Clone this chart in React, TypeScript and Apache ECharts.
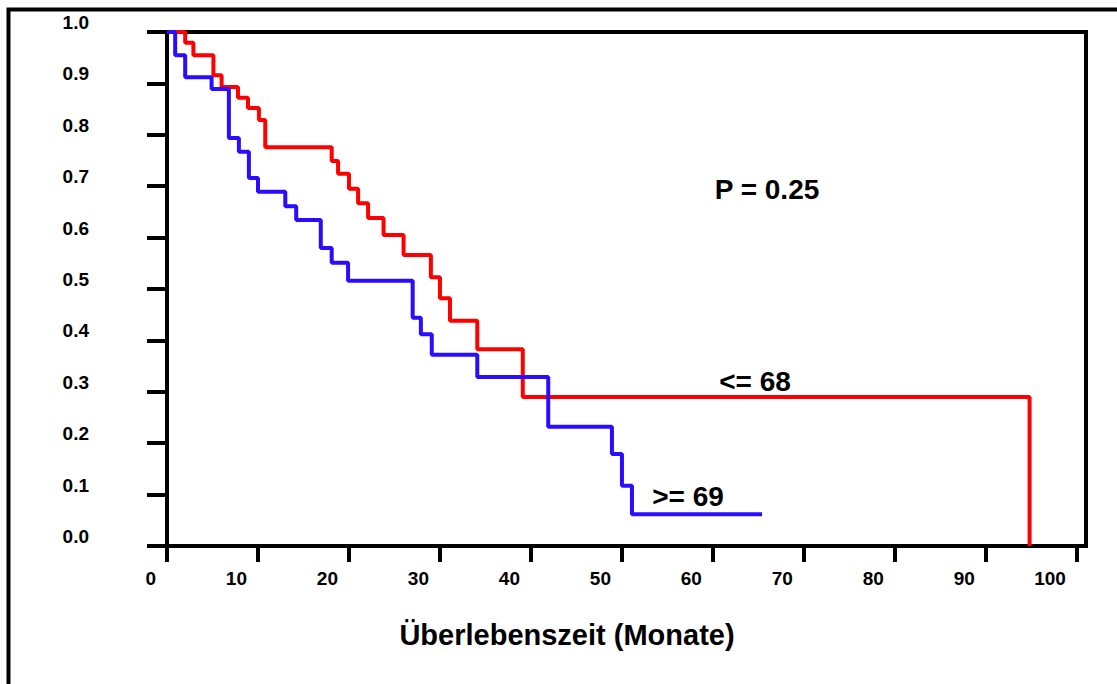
import React, { useEffect, useRef } from "react";
import * as echarts from "echarts";

// Kaplan-Meier curves (time in months, survival proportion)
const redTimes = [0, 2.0, 2.9, 5.1, 6.0, 7.8, 8.9, 10.1, 10.8, 18.1, 18.8, 20.0, 21.0, 22.1, 23.8, 26.0, 29.0, 30.0, 31.1, 34.1, 39.1, 94.8];
const redSurv = [1.0, 0.979, 0.955, 0.916, 0.893, 0.872, 0.852, 0.829, 0.776, 0.749, 0.724, 0.695, 0.667, 0.638, 0.605, 0.566, 0.523, 0.482, 0.438, 0.383, 0.29, 0];

const blueTimes = [0, 0.9, 2.0, 4.9, 6.8, 7.9, 9.0, 10.0, 13.0, 14.2, 16.9, 18.1, 19.9, 27.0, 27.9, 29.1, 34.1, 41.9, 48.9, 50.0, 51.1, 65.4];
const blueSurv = [1.0, 0.955, 0.912, 0.889, 0.794, 0.767, 0.716, 0.689, 0.661, 0.634, 0.58, 0.551, 0.516, 0.444, 0.412, 0.372, 0.329, 0.232, 0.179, 0.117, 0.062, 0.062];

const xTickValues = [0, 10, 20, 30, 40, 50, 60, 70, 80, 90, 100];

const redLabel = "<= 68";
const blueLabel = ">= 69";
const pLabel = "P = 0.25";
const xTitle = "Überlebenszeit (Monate)";

const FONT = "'Liberation Sans', Arial, Helvetica, sans-serif";

export default function App() {
  const ref = useRef<HTMLDivElement>(null);

  useEffect(() => {
    if (!ref.current) return;
    const chart = echarts.init(ref.current, null, { renderer: "svg" });
    const redData = redTimes.map((t, i) => [t, redSurv[i]]);
    const blueData = blueTimes.map((t, i) => [t, blueSurv[i]]);

    chart.setOption({
      animation: false,
      backgroundColor: "#ffffff",
      grid: {
        left: 167,
        right: 31,
        top: 32,
        bottom: 138,
        show: true,
        borderColor: "#000",
        borderWidth: 4,
        backgroundColor: "transparent",
      },
      xAxis: {
        type: "value",
        min: 0,
        max: 101,
        interval: 10,
        axisLine: { show: true, lineStyle: { color: "#000", width: 4 } },
        axisTick: {
          show: true,
          inside: false,
          length: 16,
          lineStyle: { color: "#000", width: 4 },
          customValues: xTickValues,
        },
        axisLabel: {
          customValues: xTickValues,
          color: "#000",
          fontFamily: FONT,
          fontWeight: "bold",
          fontSize: 19,
          margin: 23,
          align: "right",
          padding: [0, 11, 0, 0],
        },
        splitLine: { show: false },
      },
      yAxis: {
        type: "value",
        min: 0,
        max: 1,
        interval: 0.1,
        axisLine: { show: true, lineStyle: { color: "#000", width: 4 } },
        axisTick: {
          show: true,
          inside: false,
          length: 20,
          lineStyle: { color: "#000", width: 4 },
        },
        axisLabel: {
          color: "#000",
          fontFamily: FONT,
          fontWeight: "bold",
          fontSize: 19,
          margin: 78,
          verticalAlign: "bottom",
          formatter: (v: number) => v.toFixed(1),
        },
        splitLine: { show: false },
      },
      series: [
        {
          name: redLabel,
          type: "line",
          step: "end",
          data: redData,
          symbol: "none",
          clip: false,
          lineStyle: { color: "#ff0000", width: 4 },
          z: 3,
        },
        {
          name: blueLabel,
          type: "line",
          step: "end",
          data: blueData,
          symbol: "none",
          clip: false,
          lineStyle: { color: "#2a0cff", width: 4 },
          z: 4,
        },
      ],
      graphic: [
        {
          type: "rect",
          shape: { x: 8.5, y: 9.5, width: 1400, height: 1000 },
          style: { fill: "none", stroke: "#000", lineWidth: 4 },
          silent: true,
        },
        {
          type: "text",
          x: 767,
          y: 189,
          style: {
            text: pLabel,
            fill: "#000",
            fontFamily: FONT,
            fontWeight: "bold",
            fontSize: 28,
            align: "center",
            verticalAlign: "middle",
          },
        },
        {
          type: "text",
          x: 755,
          y: 381,
          style: {
            text: redLabel,
            fill: "#000",
            fontFamily: FONT,
            fontWeight: "bold",
            fontSize: 28,
            align: "center",
            verticalAlign: "middle",
          },
        },
        {
          type: "text",
          x: 688,
          y: 496,
          style: {
            text: blueLabel,
            fill: "#000",
            fontFamily: FONT,
            fontWeight: "bold",
            fontSize: 28,
            align: "center",
            verticalAlign: "middle",
          },
        },
        {
          type: "text",
          x: 567,
          y: 635,
          style: {
            text: xTitle,
            fill: "#000",
            fontFamily: FONT,
            fontWeight: "bold",
            fontSize: 29,
            align: "center",
            verticalAlign: "middle",
          },
        },
      ],
    });

    return () => {
      chart.dispose();
    };
  }, []);

  return (
    <div
      ref={ref}
      style={{ position: "absolute", left: 0, top: 0, width: 1117, height: 684 }}
    />
  );
}
